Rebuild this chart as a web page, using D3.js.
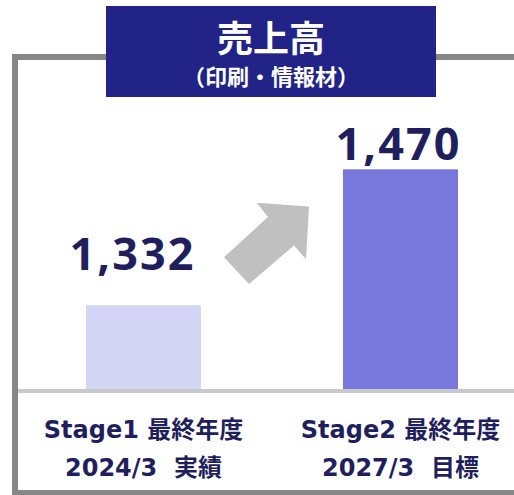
<!DOCTYPE html>
<html>
<head>
<meta charset="utf-8">
<script src="https://cdn.jsdelivr.net/npm/d3@7"></script>
<style>
  html, body { margin: 0; padding: 0; background: #ffffff; }
  svg { display: block; }
  text { white-space: pre; }
</style>
</head>
<body>
<script>
// Sales (printing & information materials), final year of Stage1 vs Stage2 target
const categories = ["Stage1", "Stage2"];
const labelLine1 = ["Stage1 最終年度", "Stage2 最終年度"];
const labelLine2 = ["2024/3  実績", "2027/3  目標"];
const values = [1332, 1470];
const valueLabels = ["1,332", "1,470"];
const barColors = ["#d4d4f4", "#7878dc"];
const titleMain = "売上高";
const titleSub = "（印刷・情報材）";

const W = 514, H = 495;
const navy = "#1f1f5e";
const baseY = 389;

const svg = d3.select("body").append("svg")
  .attr("width", W).attr("height", H);

// Outer frame (open on the right edge)
svg.append("rect")
  .attr("x", 15).attr("y", 57)
  .attr("width", 520).attr("height", 436)
  .attr("fill", "none")
  .attr("stroke", "#878787")
  .attr("stroke-width", 6);

const x = d3.scaleBand()
  .domain(categories)
  .range([15, 529])
  .paddingInner(0.5525)
  .paddingOuter(0.27625);

// Value axis is truncated so the growth is visible
const y = d3.scaleLinear()
  .domain([1247, 1470])
  .range([baseY, 169.3]);

// Bars
svg.selectAll("rect.bar")
  .data(values)
  .join("rect")
  .attr("class", "bar")
  .attr("x", (d, i) => x(categories[i]))
  .attr("width", x.bandwidth())
  .attr("y", d => y(d))
  .attr("height", d => baseY - y(d))
  .attr("fill", (d, i) => barColors[i]);

// Baseline
svg.append("line")
  .attr("x1", 18).attr("x2", W)
  .attr("y1", baseY + 2).attr("y2", baseY + 2)
  .attr("stroke", "#c9c9c9")
  .attr("stroke-width", 4);

// Value labels above the bars
const labelGap = [35, 9];
const labelDx = [-11, -2];
svg.selectAll("text.value")
  .data(values)
  .join("text")
  .attr("class", "value")
  .attr("x", (d, i) => x(categories[i]) + x.bandwidth() / 2 + labelDx[i])
  .attr("y", (d, i) => y(d) - labelGap[i])
  .attr("text-anchor", "middle")
  .attr("font-family", "'Noto Sans', 'DejaVu Sans', sans-serif")
  .attr("font-weight", "bold")
  .attr("font-size", 45)
  .attr("letter-spacing", 2)
  .attr("fill", navy)
  .text((d, i) => valueLabels[i]);

// Growth arrow between the bars
const arrowPts = [
  [224, 257.3], [249, 284], [294, 245.5], [306, 259.3],
  [309, 206.5], [256.7, 202.7], [268, 217]
];
svg.append("polygon")
  .attr("points", arrowPts.map(p => p.join(",")).join(" "))
  .attr("fill", "#c0c0c0");

// Category labels under the baseline
const catFont = "'DejaVu Sans', 'Noto Sans CJK JP', sans-serif";
svg.selectAll("text.cat1")
  .data(labelLine1)
  .join("text")
  .attr("class", "cat1")
  .attr("x", (d, i) => x(categories[i]) + x.bandwidth() / 2)
  .attr("y", 438)
  .attr("text-anchor", "middle")
  .attr("font-family", catFont)
  .attr("font-weight", "bold")
  .attr("font-size", 24)
  .attr("fill", navy)
  .text(d => d);

svg.selectAll("text.cat2")
  .data(labelLine2)
  .join("text")
  .attr("class", "cat2")
  .attr("x", (d, i) => x(categories[i]) + x.bandwidth() / 2)
  .attr("y", 476)
  .attr("text-anchor", "middle")
  .attr("font-family", catFont)
  .attr("font-weight", "bold")
  .attr("font-size", 24)
  .attr("fill", navy)
  .text(d => d);

// Title box
svg.append("rect")
  .attr("x", 106).attr("y", 6)
  .attr("width", 330).attr("height", 91)
  .attr("fill", "#212386");

svg.append("text")
  .attr("x", 271).attr("y", 52)
  .attr("text-anchor", "middle")
  .attr("font-family", "'Noto Sans CJK JP', sans-serif")
  .attr("font-weight", "bold")
  .attr("font-size", 36)
  .attr("fill", "#ffffff")
  .text(titleMain);

svg.append("text")
  .attr("x", 271).attr("y", 85)
  .attr("text-anchor", "middle")
  .attr("font-family", "'Noto Sans CJK JP', sans-serif")
  .attr("font-weight", "bold")
  .attr("font-size", 22)
  .attr("fill", "#ffffff")
  .text(titleSub);
</script>
</body>
</html>
